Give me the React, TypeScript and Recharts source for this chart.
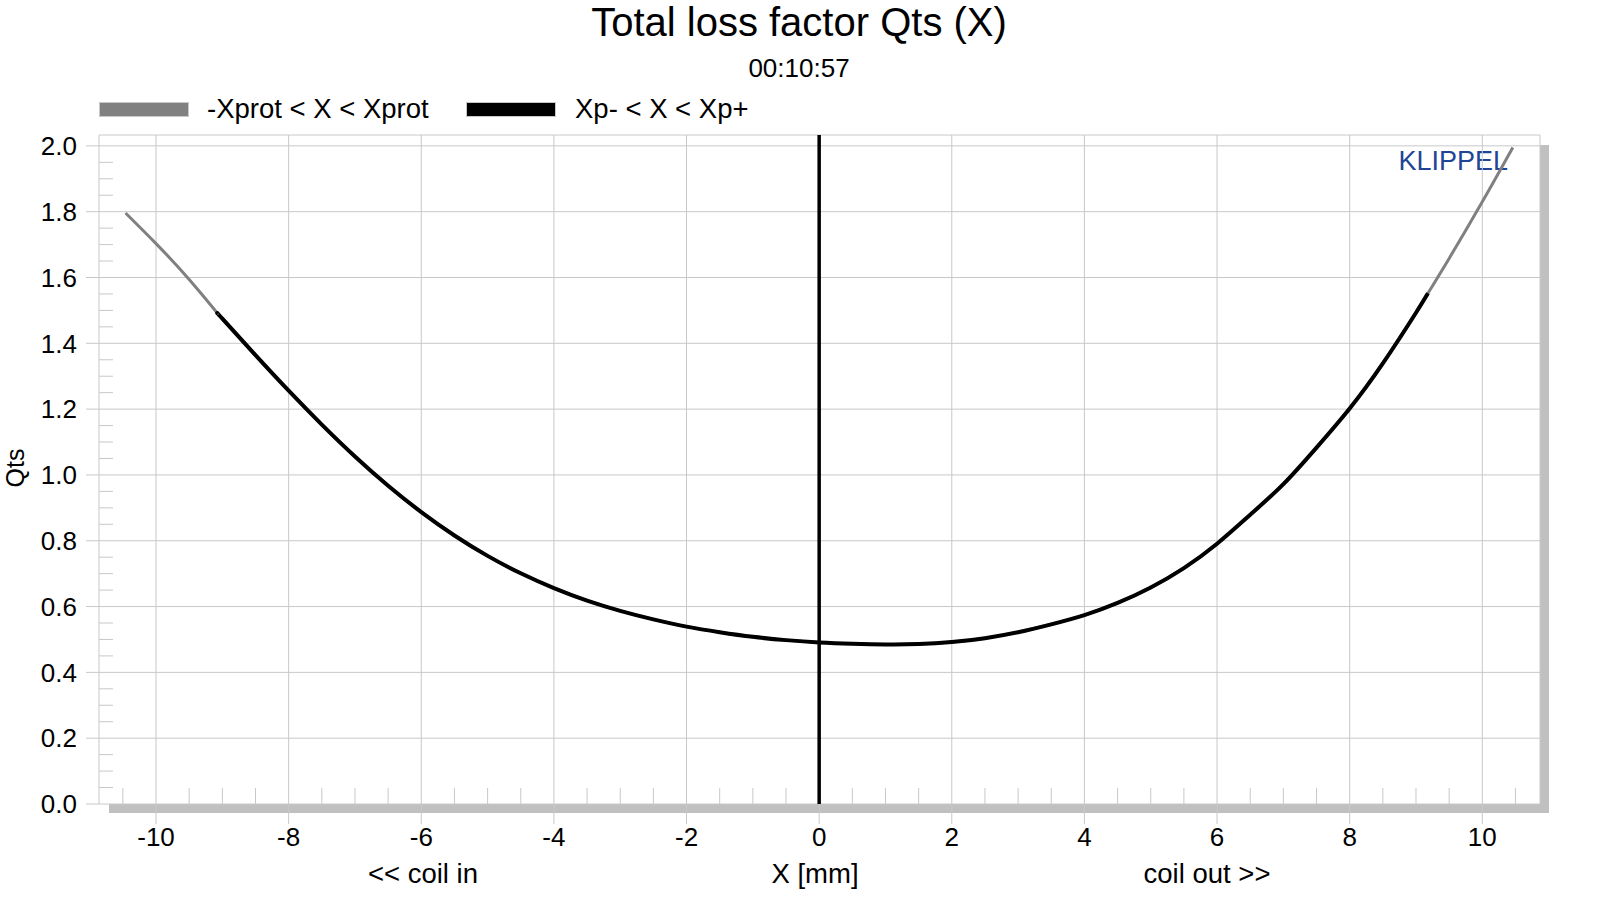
import React from 'react';
import {
  LineChart,
  Line,
  XAxis,
  YAxis,
  CartesianGrid,
  ReferenceLine,
  ReferenceArea,
} from 'recharts';

// ---------- data ----------
const xValues = [
  -10.46, -10, -9.5, -9.065, -9, -8.5, -8, -7.5, -7, -6.5, -6, -5.5, -5, -4.5, -4, -3.5, -3, -2.5,
  -2, -1.5, -1, -0.5, 0, 0.5, 1, 1.5, 2, 2.5, 3, 3.5, 4, 4.5, 5, 5.5, 6, 6.5, 7, 7.5, 8, 8.5, 9,
  9.18, 9.5, 10, 10.46,
];
const qtsValues = [
  1.796, 1.703, 1.594, 1.489, 1.475, 1.364, 1.256, 1.153, 1.056, 0.967, 0.887, 0.816, 0.754, 0.701,
  0.656, 0.618, 0.587, 0.561, 0.539, 0.522, 0.508, 0.498, 0.491, 0.487, 0.485, 0.486, 0.492, 0.504,
  0.522, 0.546, 0.574, 0.611, 0.658, 0.717, 0.791, 0.879, 0.972, 1.083, 1.202, 1.339, 1.493, 1.552,
  1.658, 1.83, 1.995,
];
const xpMinus = -9.065;
const xpPlus = 9.18;

const xTicks = [-10, -8, -6, -4, -2, 0, 2, 4, 6, 8, 10];
const yTicks = [0, 0.2, 0.4, 0.6, 0.8, 1.0, 1.2, 1.4, 1.6, 1.8, 2.0];
const xMinorTicks = [
  -10.5, -9.5, -9, -8.5, -7.5, -7, -6.5, -5.5, -5, -4.5, -3.5, -3, -2.5, -1.5, -1, -0.5, 0.5, 1,
  1.5, 2.5, 3, 3.5, 4.5, 5, 5.5, 6.5, 7, 7.5, 8.5, 9, 9.5, 10.5,
];
const yMinorTicks = [
  0.05, 0.1, 0.15, 0.25, 0.3, 0.35, 0.45, 0.5, 0.55, 0.65, 0.7, 0.75, 0.85, 0.9, 0.95, 1.05, 1.1,
  1.15, 1.25, 1.3, 1.35, 1.45, 1.5, 1.55, 1.65, 1.7, 1.75, 1.85, 1.9, 1.95,
];
const xDomain: [number, number] = [-10.86, 10.87];
const yDomain: [number, number] = [0, 2.033];

const title = 'Total loss factor Qts (X)';
const subtitle = '00:10:57';
const seriesNames = ['-Xprot < X < Xprot', 'Xp- < X < Xp+'];
const seriesColors = ['#808080', '#000000'];
const xAxisNotes = ['<< coil in', 'X [mm]', 'coil out >>'];
const yAxisTitle = 'Qts';
const brand = 'KLIPPEL';

const fullSeries = xValues.map((x, i) => ({ x, qts: qtsValues[i] }));
const innerSeries = fullSeries.filter((p) => p.x >= xpMinus && p.x <= xpPlus);

// ---------- styles ----------
const FONT = '"Liberation Sans", Arial, sans-serif';
const GRID = '#c8c8c8';
const tickStyle = { fontSize: 26, fill: '#000', fontFamily: FONT };
const hiddenTick = { fontSize: 1, fill: 'none' };
const blank = () => '';

export default function App() {
  return (
    <div style={{ position: 'absolute', left: 0, top: 0, width: 1600, height: 900, background: '#fff' }}>
      {/* drop shadow of the plot frame */}
      <div style={{ position: 'absolute', left: 109, top: 145, width: 1440, height: 668, background: '#c0c0c0' }} />
      <div style={{ position: 'absolute', left: 99, top: 135, width: 1441, height: 669, background: '#fff' }} />
      <svg
        width={1600}
        height={900}
        style={{ position: 'absolute', left: 0, top: 0, fontFamily: FONT }}
      >
        <text x={799} y={36} textAnchor="middle" fontSize={40} fill="#000">{title}</text>
        <text x={799} y={77} textAnchor="middle" fontSize={26} fill="#000">{subtitle}</text>
        <rect x={99.5} y={102.5} width={89} height={14} fill={seriesColors[0]} stroke="#c8c8c8" />
        <text x={207} y={118} fontSize={27.5} fill="#000">{seriesNames[0]}</text>
        <rect x={466.5} y={102.5} width={89} height={14} fill={seriesColors[1]} stroke="#c8c8c8" />
        <text x={575} y={118} fontSize={27.5} fill="#000">{seriesNames[1]}</text>
        <text x={423} y={883} textAnchor="middle" fontSize={27.5} fill="#000">{xAxisNotes[0]}</text>
        <text x={815} y={883} textAnchor="middle" fontSize={27.5} fill="#000">{xAxisNotes[1]}</text>
        <text x={1207} y={883} textAnchor="middle" fontSize={27.5} fill="#000">{xAxisNotes[2]}</text>
        <text
          x={24}
          y={468}
          textAnchor="middle"
          fontSize={25}
          fill="#000"
          transform="rotate(-90, 24, 468)"
        >
          {yAxisTitle}
        </text>
        <text x={1508} y={170} textAnchor="end" fontSize={27} fill="#1f4596">{brand}</text>
      </svg>
      <div style={{ position: 'absolute', left: 0, top: 0 }}>
        <LineChart width={1600} height={900} margin={{ top: 135, right: 60, bottom: 0, left: 0 }}>
          <XAxis
            xAxisId="minor"
            type="number"
            dataKey="x"
            domain={xDomain}
            allowDataOverflow
            ticks={xMinorTicks}
            interval={0}
            mirror
            height={1}
            tick={hiddenTick}
            tickFormatter={blank}
            axisLine={false}
            tickLine={{ stroke: GRID }}
            tickSize={16}
          />
          <YAxis
            yAxisId="minor"
            type="number"
            domain={yDomain}
            allowDataOverflow
            ticks={yMinorTicks}
            interval={0}
            mirror
            width={1}
            tick={hiddenTick}
            tickFormatter={blank}
            axisLine={false}
            tickLine={{ stroke: GRID }}
            tickSize={14}
          />
          <XAxis
            xAxisId="main"
            type="number"
            dataKey="x"
            domain={xDomain}
            allowDataOverflow
            ticks={xTicks}
            interval={0}
            height={96}
            axisLine={false}
            tickLine={{ stroke: GRID }}
            tickSize={20}
            tickMargin={4}
            tick={tickStyle}
            tickFormatter={(v: number) => String(v)}
          />
          <YAxis
            yAxisId="main"
            type="number"
            domain={yDomain}
            allowDataOverflow
            ticks={yTicks}
            interval={0}
            width={99}
            axisLine={false}
            tickLine={{ stroke: GRID }}
            tickSize={13}
            tickMargin={9}
            tick={tickStyle}
            tickFormatter={(v: number) => v.toFixed(1)}
          />
          <CartesianGrid xAxisId="main" yAxisId="main" stroke={GRID} strokeWidth={1} />
          <ReferenceArea
            xAxisId="main"
            yAxisId="main"
            fill="none"
            stroke={GRID}
            strokeWidth={1}
            ifOverflow="visible"
          />
          <ReferenceLine xAxisId="main" yAxisId="main" x={0} stroke="#000" strokeWidth={3.5} />
          {/* invisible carrier so the minor-tick axes receive the same data */}
          <Line
            xAxisId="minor"
            yAxisId="minor"
            data={fullSeries}
            dataKey="qts"
            stroke="none"
            dot={false}
            activeDot={false}
            legendType="none"
            isAnimationActive={false}
          />
          <Line
            xAxisId="main"
            yAxisId="main"
            data={fullSeries}
            dataKey="qts"
            name={seriesNames[0]}
            type="natural"
            stroke={seriesColors[0]}
            strokeWidth={3}
            dot={false}
            activeDot={false}
            isAnimationActive={false}
          />
          <Line
            xAxisId="main"
            yAxisId="main"
            data={innerSeries}
            dataKey="qts"
            name={seriesNames[1]}
            type="natural"
            stroke={seriesColors[1]}
            strokeWidth={4}
            dot={false}
            activeDot={false}
            isAnimationActive={false}
          />
        </LineChart>
      </div>
    </div>
  );
}
